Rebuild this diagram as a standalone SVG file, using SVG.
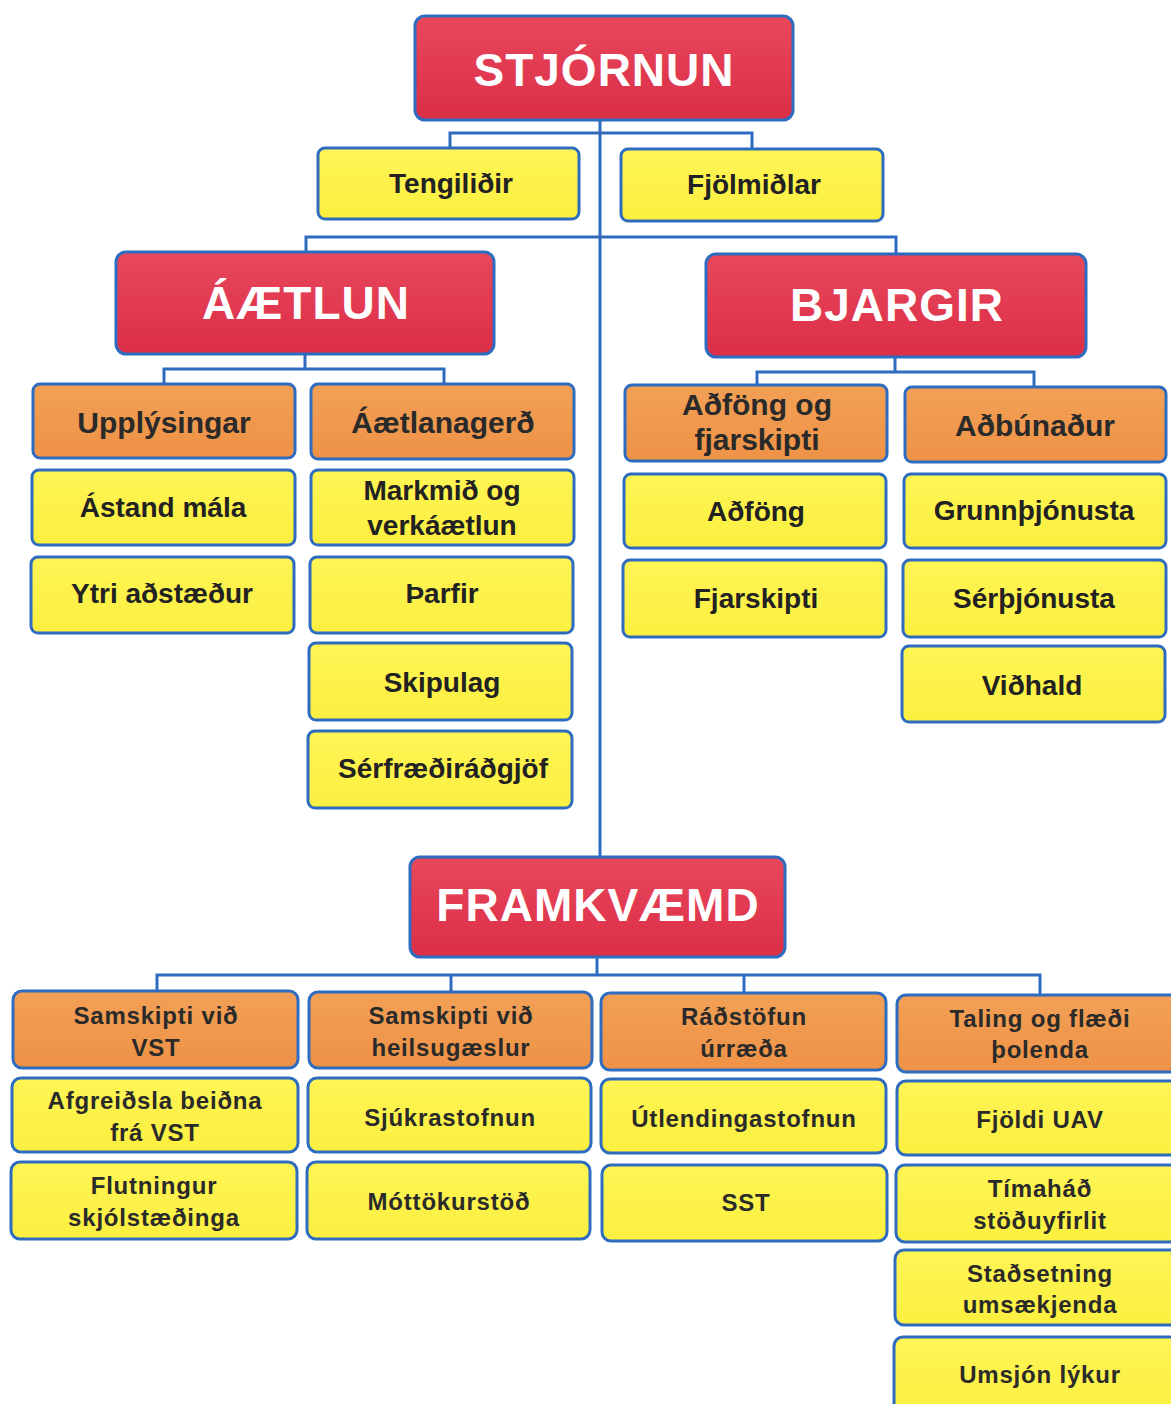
<svg xmlns="http://www.w3.org/2000/svg" width="1171" height="1404" viewBox="0 0 1171 1404">
<defs>
<linearGradient id="gr" x1="0" y1="0" x2="0" y2="1">
<stop offset="0" stop-color="#E8475C"/><stop offset="1" stop-color="#DB2E47"/>
</linearGradient>
<linearGradient id="go" x1="0" y1="0" x2="0" y2="1">
<stop offset="0" stop-color="#F2A056"/><stop offset="1" stop-color="#EE9246"/>
</linearGradient>
<linearGradient id="gy" x1="0" y1="0" x2="0" y2="1">
<stop offset="0" stop-color="#FFF555"/><stop offset="1" stop-color="#FBEF40"/>
</linearGradient>
</defs>
<style>
rect{stroke:#2E6CC0;stroke-width:3}
.r{fill:url(#gr)}
.o{fill:url(#go)}
.y{fill:url(#gy)}
text{font-family:"Liberation Sans",Arial,sans-serif;font-weight:bold;text-anchor:middle}
.t{fill:#fff;font-size:46px;letter-spacing:1px}
.ot{fill:#2a2a2a;font-size:30px}
.yt{fill:#222;font-size:28px}
.bt{fill:#2a2a2a;font-size:24px;letter-spacing:0.8px}
.c{fill:none;stroke:#2E6CC0;stroke-width:3}
</style>
<rect width="1171" height="1404" fill="#fff" style="stroke:none"/>
<g id="connectors">
<path class="c" d="M600 120V857"/>
<path class="c" d="M450 148V133H752V149"/>
<path class="c" d="M306 252V237H896V254"/>
<path class="c" d="M305 354V369M164 384V369H444V384"/>
<path class="c" d="M895 357V372M757 385V372H1034V387"/>
<path class="c" d="M597 957V975M157 991V975H1040V995M451 975V992M744 975V993"/>
</g>
<g id="stjornun"><rect class="r" x="415" y="16" width="378" height="104" rx="10"/><text class="t" x="604" y="86">STJÓRNUN</text></g>
<g id="tengilidir"><rect class="y" x="318" y="148" width="261" height="71" rx="7"/><text class="yt" x="451" y="193">Tengiliðir</text></g>
<g id="fjolmidlar"><rect class="y" x="621" y="149" width="262" height="72" rx="7"/><text class="yt" x="754" y="194">Fjölmiðlar</text></g>
<g id="aaetlun"><rect class="r" x="116" y="252" width="378" height="102" rx="10"/><text class="t" x="306" y="319">ÁÆTLUN</text></g>
<g id="bjargir"><rect class="r" x="706" y="254" width="380" height="103" rx="10"/><text class="t" x="897" y="321">BJARGIR</text></g>
<g id="upplysingar"><rect class="o" x="33" y="384" width="262" height="74" rx="7"/><text class="ot" x="164" y="433">Upplýsingar</text></g>
<g id="aaetlanagerd"><rect class="o" x="311" y="384" width="263" height="75" rx="7"/><text class="ot" x="443" y="433">Áætlanagerð</text></g>
<g id="astand"><rect class="y" x="32" y="470" width="263" height="75" rx="7"/><text class="yt" x="163" y="517">Ástand  mála</text></g>
<g id="markmid"><rect class="y" x="311" y="470" width="263" height="75" rx="7"/><text class="yt" x="442" y="500">Markmið og</text><text class="yt" x="442" y="535">verkáætlun</text></g>
<g id="ytri"><rect class="y" x="31" y="557" width="263" height="76" rx="7"/><text class="yt" x="162" y="603">Ytri aðstæður</text></g>
<g id="tharfir"><rect class="y" x="310" y="557" width="263" height="76" rx="7"/><text class="yt" x="442" y="603">Þarfir</text></g>
<g id="skipulag"><rect class="y" x="309" y="643" width="263" height="77" rx="7"/><text class="yt" x="442" y="692">Skipulag</text></g>
<g id="serfraedi"><rect class="y" x="308" y="731" width="264" height="77" rx="7"/><text class="yt" x="443" y="778">Sérfræðiráðgjöf</text></g>
<g id="adfong-fjarskipti"><rect class="o" x="625" y="385" width="262" height="76" rx="7"/><text class="ot" x="757" y="415">Aðföng og</text><text class="ot" x="757" y="450">fjarskipti</text></g>
<g id="adbunadur"><rect class="o" x="905" y="387" width="261" height="75" rx="7"/><text class="ot" x="1035" y="436">Aðbúnaður</text></g>
<g id="adfong"><rect class="y" x="624" y="474" width="262" height="74" rx="7"/><text class="yt" x="756" y="521">Aðföng</text></g>
<g id="grunnthjonusta"><rect class="y" x="904" y="474" width="262" height="74" rx="7"/><text class="yt" x="1034" y="520">Grunnþjónusta</text></g>
<g id="fjarskipti"><rect class="y" x="623" y="560" width="263" height="77" rx="7"/><text class="yt" x="756" y="608">Fjarskipti</text></g>
<g id="serthjonusta"><rect class="y" x="903" y="560" width="263" height="77" rx="7"/><text class="yt" x="1034" y="608">Sérþjónusta</text></g>
<g id="vidhald"><rect class="y" x="902" y="646" width="263" height="76" rx="7"/><text class="yt" x="1032" y="695">Viðhald</text></g>
<g id="framkvaemd"><rect class="r" x="410" y="857" width="375" height="100" rx="10"/><text class="t" x="598" y="921">FRAMKVÆMD</text></g>
<g id="samskipti-vst"><rect class="o" x="13" y="991" width="285" height="77" rx="9"/><text class="bt" x="156" y="1024">Samskipti við</text><text class="bt" x="156" y="1056">VST</text></g>
<g id="samskipti-heilsu"><rect class="o" x="309" y="992" width="283" height="76" rx="9"/><text class="bt" x="451" y="1024">Samskipti við</text><text class="bt" x="451" y="1056">heilsugæslur</text></g>
<g id="radstofun"><rect class="o" x="601" y="993" width="285" height="77" rx="9"/><text class="bt" x="744" y="1025">Ráðstöfun</text><text class="bt" x="744" y="1057">úrræða</text></g>
<g id="taling"><rect class="o" x="897" y="995" width="290" height="77" rx="9"/><text class="bt" x="1040" y="1027">Taling og flæði</text><text class="bt" x="1040" y="1058">þolenda</text></g>
<g id="afgreidsla"><rect class="y" x="12" y="1078" width="286" height="74" rx="9"/><text class="bt" x="155" y="1109">Afgreiðsla  beiðna</text><text class="bt" x="155" y="1141">frá VST</text></g>
<g id="sjukrastofnun"><rect class="y" x="308" y="1078" width="283" height="74" rx="9"/><text class="bt" x="450" y="1126">Sjúkrastofnun</text></g>
<g id="utlendinga"><rect class="y" x="601" y="1079" width="285" height="74" rx="9"/><text class="bt" x="744" y="1127">Útlendingastofnun</text></g>
<g id="fjoldi"><rect class="y" x="897" y="1081" width="290" height="74" rx="9"/><text class="bt" x="1040" y="1128">Fjöldi UAV</text></g>
<g id="flutningur"><rect class="y" x="11" y="1162" width="286" height="77" rx="9"/><text class="bt" x="154" y="1194">Flutningur</text><text class="bt" x="154" y="1226">skjólstæðinga</text></g>
<g id="mottokurstod"><rect class="y" x="307" y="1162" width="283" height="77" rx="9"/><text class="bt" x="449" y="1210">Móttökurstöð</text></g>
<g id="sst"><rect class="y" x="602" y="1165" width="285" height="76" rx="9"/><text class="bt" x="746" y="1211">SST</text></g>
<g id="timahad"><rect class="y" x="896" y="1165" width="291" height="77" rx="9"/><text class="bt" x="1040" y="1197">Tímaháð</text><text class="bt" x="1040" y="1229">stöðuyfirlit</text></g>
<g id="stadsetning"><rect class="y" x="895" y="1250" width="292" height="75" rx="9"/><text class="bt" x="1040" y="1282">Staðsetning</text><text class="bt" x="1040" y="1313">umsækjenda</text></g>
<g id="umsjon"><rect class="y" x="894" y="1337" width="293" height="80" rx="9"/><text class="bt" x="1040" y="1383">Umsjón  lýkur</text></g>
</svg>
